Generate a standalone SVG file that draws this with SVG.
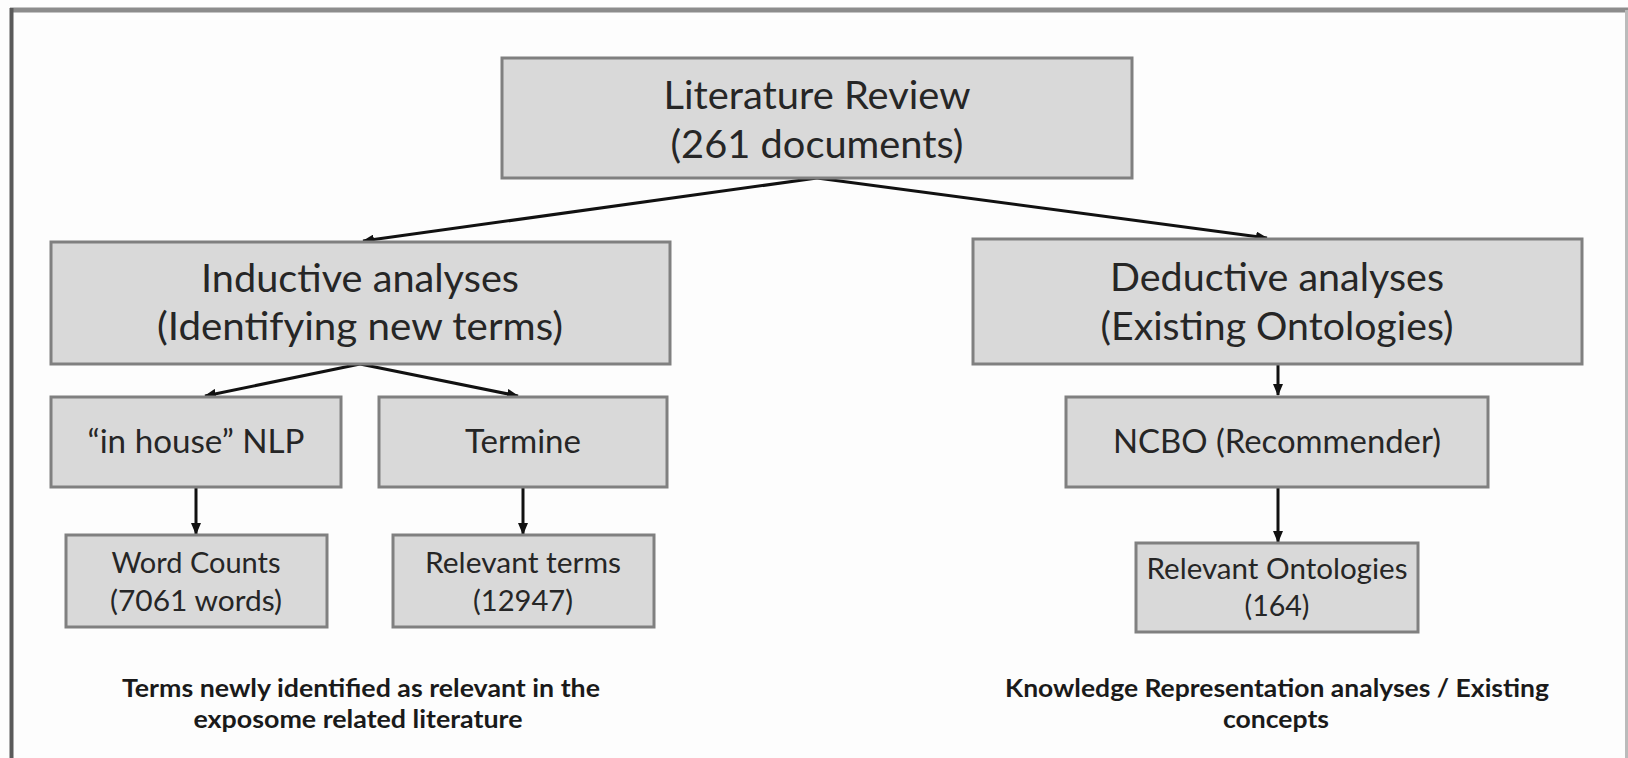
<svg xmlns="http://www.w3.org/2000/svg" width="1628" height="758" viewBox="0 0 1628 758">
  <defs>
    <style>
      .box { fill: #d9d9d9; stroke: #808080; stroke-width: 3; }
      .t { font-family: Lato, "Open Sans", "Liberation Sans", sans-serif; fill: #262626; text-anchor: middle; }
      .big { font-size: 38px; }
      .mid { font-size: 32px; }
      .small { font-size: 28px; }
      .note { font-family: Lato, "Liberation Sans", sans-serif; font-weight: bold; font-size: 24px; fill: #1a1a1a; text-anchor: middle; }
      .conn { stroke: #111; stroke-width: 3; fill: none; marker-end: url(#arrow); }
    </style>
    <marker id="arrow" markerUnits="userSpaceOnUse" markerWidth="12" markerHeight="10" refX="11" refY="5" orient="auto">
      <path d="M0,0 L12,5 L0,10 Z" fill="#111"/>
    </marker>
  </defs>

  <!-- page background and frame -->
  <rect x="0" y="0" width="1628" height="758" fill="#fdfdfd"/>
  <line x1="10" y1="10" x2="1628" y2="10" stroke="#8c8c8c" stroke-width="5"/>
  <line x1="11.5" y1="8" x2="11.5" y2="758" stroke="#5a5a5a" stroke-width="4"/>
  <line x1="1626.5" y1="10" x2="1626.5" y2="758" stroke="#bbbbbb" stroke-width="3"/>

  <!-- connectors -->
  <g id="connectors">
    <line class="conn" x1="817" y1="178" x2="363" y2="241"/>
    <line class="conn" x1="817" y1="178" x2="1267" y2="238"/>
    <line class="conn" x1="360" y1="364" x2="205" y2="396"/>
    <line class="conn" x1="360" y1="364" x2="518" y2="396"/>
    <line class="conn" x1="196" y1="487" x2="196" y2="534"/>
    <line class="conn" x1="523" y1="487" x2="523" y2="534"/>
    <line class="conn" x1="1278" y1="364" x2="1278" y2="395"/>
    <line class="conn" x1="1278" y1="487" x2="1278" y2="542"/>
  </g>

  <g id="literature-review">
    <rect class="box" x="502" y="58" width="630" height="120"/>
    <text class="t big" x="817" y="109" textLength="307" lengthAdjust="spacingAndGlyphs">Literature Review</text>
    <text class="t big" x="817" y="158" textLength="293" lengthAdjust="spacingAndGlyphs">(261 documents)</text>
  </g>

  <g id="inductive">
    <rect class="box" x="51" y="242" width="619" height="122"/>
    <text class="t big" x="360" y="292" textLength="318" lengthAdjust="spacingAndGlyphs">Inductive analyses</text>
    <text class="t big" x="360" y="340" textLength="406" lengthAdjust="spacingAndGlyphs">(Identifying new terms)</text>
  </g>

  <g id="deductive">
    <rect class="box" x="973" y="239" width="609" height="125"/>
    <text class="t big" x="1277" y="291" textLength="334" lengthAdjust="spacingAndGlyphs">Deductive analyses</text>
    <text class="t big" x="1277" y="340" textLength="353" lengthAdjust="spacingAndGlyphs">(Existing Ontologies)</text>
  </g>

  <g id="in-house-nlp">
    <rect class="box" x="51" y="397" width="290" height="90"/>
    <text class="t mid" x="196" y="453" textLength="217" lengthAdjust="spacingAndGlyphs">“in house” NLP</text>
  </g>

  <g id="termine">
    <rect class="box" x="379" y="397" width="288" height="90"/>
    <text class="t mid" x="523" y="453" textLength="116" lengthAdjust="spacingAndGlyphs">Termine</text>
  </g>

  <g id="ncbo">
    <rect class="box" x="1066" y="397" width="422" height="90"/>
    <text class="t mid" x="1277" y="453" textLength="328" lengthAdjust="spacingAndGlyphs">NCBO (Recommender)</text>
  </g>

  <g id="word-counts">
    <rect class="box" x="66" y="535" width="261" height="92"/>
    <text class="t small" x="196" y="573" textLength="169" lengthAdjust="spacingAndGlyphs">Word Counts</text>
    <text class="t small" x="196" y="611" textLength="172" lengthAdjust="spacingAndGlyphs">(7061 words)</text>
  </g>

  <g id="relevant-terms">
    <rect class="box" x="393" y="535" width="261" height="92"/>
    <text class="t small" x="523" y="573" textLength="196" lengthAdjust="spacingAndGlyphs">Relevant terms</text>
    <text class="t small" x="523" y="611" textLength="100" lengthAdjust="spacingAndGlyphs">(12947)</text>
  </g>

  <g id="relevant-ontologies">
    <rect class="box" x="1136" y="543" width="282" height="89"/>
    <text class="t small" x="1277" y="579" textLength="261" lengthAdjust="spacingAndGlyphs">Relevant Ontologies</text>
    <text class="t small" x="1277" y="616" textLength="65" lengthAdjust="spacingAndGlyphs">(164)</text>
  </g>

  <g id="notes">
    <text class="note" x="361" y="697" textLength="478" lengthAdjust="spacingAndGlyphs">Terms newly identified as relevant in the</text>
    <text class="note" x="358" y="728" textLength="329" lengthAdjust="spacingAndGlyphs">exposome related literature</text>
    <text class="note" x="1277" y="697" textLength="544" lengthAdjust="spacingAndGlyphs">Knowledge Representation analyses / Existing</text>
    <text class="note" x="1276" y="728" textLength="106" lengthAdjust="spacingAndGlyphs">concepts</text>
  </g>
</svg>
